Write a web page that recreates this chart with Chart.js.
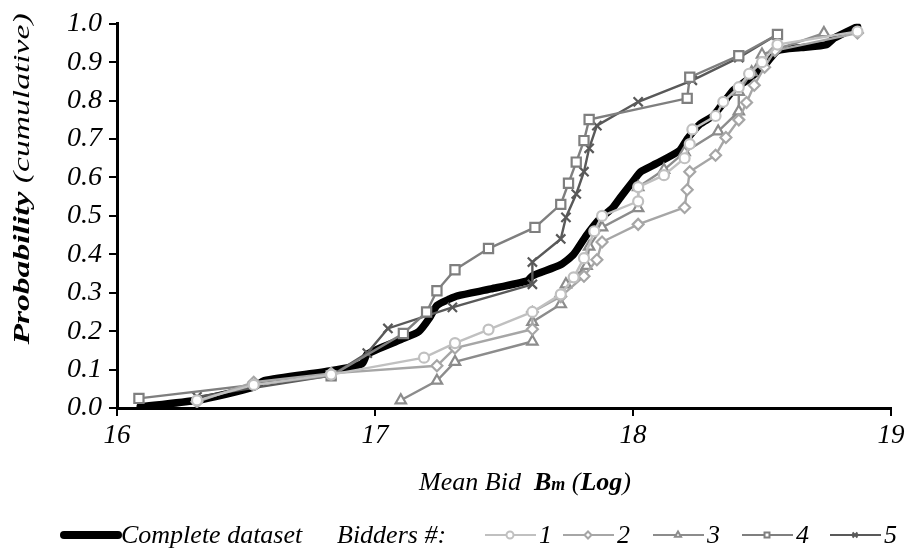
<!DOCTYPE html>
<html>
<head>
<meta charset="utf-8">
<script src="https://cdn.jsdelivr.net/npm/chart.js@4"></script>
<style>
  html, body { margin: 0; padding: 0; background: #fff; }
  #wrap { width: 913px; height: 556px; position: relative; }
</style>
</head>
<body>
<div id="wrap"><canvas id="cdfChart" width="913" height="556"></canvas></div>
<script>
// tick labels
const xTicks = [16, 17, 18, 19];
const yTicks = [0, 0.1, 0.2, 0.3, 0.4, 0.5, 0.6, 0.7, 0.8, 0.9, 1.0];

// complete dataset (thick black)
const completeX = [16.09, 16.31, 16.53, 16.57, 16.83, 16.95, 16.97, 17.10, 17.17, 17.21, 17.24, 17.29, 17.32, 17.45, 17.59, 17.61, 17.72, 17.77, 17.82, 17.87, 17.92, 17.95, 18.00, 18.03, 18.09, 18.18, 18.21, 18.26, 18.31, 18.34, 18.39, 18.45, 18.52, 18.56, 18.65, 18.75, 18.78, 18.87];
const completeY = [0.003, 0.02, 0.054, 0.071, 0.097, 0.115, 0.14, 0.178, 0.199, 0.233, 0.267, 0.284, 0.292, 0.31, 0.331, 0.344, 0.373, 0.40, 0.45, 0.492, 0.52, 0.547, 0.59, 0.615, 0.636, 0.67, 0.70, 0.739, 0.76, 0.785, 0.828, 0.857, 0.90, 0.93, 0.938, 0.946, 0.963, 0.993];

// bidders #1 (circles)
const bid1X = [16.31, 16.53, 16.83, 17.19, 17.31, 17.44, 17.61, 17.72, 17.77, 17.81, 17.85, 17.88, 18.02, 18.02, 18.12, 18.20, 18.22, 18.23, 18.32, 18.35, 18.41, 18.45, 18.50, 18.56, 18.87];
const bid1Y = [0.02, 0.06, 0.087, 0.131, 0.169, 0.204, 0.25, 0.296, 0.34, 0.39, 0.46, 0.50, 0.538, 0.575, 0.606, 0.65, 0.687, 0.725, 0.76, 0.797, 0.835, 0.87, 0.90, 0.946, 0.98];

// bidders #2 (diamonds)
const bid2X = [16.31, 16.53, 16.83, 17.24, 17.31, 17.61, 17.61, 17.72, 17.81, 17.86, 17.88, 18.02, 18.20, 18.21, 18.22, 18.32, 18.36, 18.41, 18.44, 18.47, 18.51, 18.55, 18.87];
const bid2Y = [0.016, 0.067, 0.09, 0.11, 0.156, 0.205, 0.25, 0.29, 0.343, 0.386, 0.432, 0.478, 0.522, 0.568, 0.615, 0.658, 0.704, 0.75, 0.795, 0.84, 0.887, 0.93, 0.976];

// bidders #3 (triangles)
const bid3X = [17.10, 17.24, 17.31, 17.61, 17.61, 17.72, 17.74, 17.82, 17.83, 17.88, 18.02, 18.02, 18.12, 18.20, 18.33, 18.41, 18.41, 18.46, 18.50, 18.74];
const bid3Y = [0.02, 0.071, 0.12, 0.173, 0.224, 0.27, 0.322, 0.37, 0.42, 0.47, 0.52, 0.575, 0.62, 0.666, 0.72, 0.772, 0.823, 0.874, 0.92, 0.976];

// bidders #4 (squares)
const bid4X = [16.085, 16.83, 17.11, 17.20, 17.24, 17.31, 17.44, 17.62, 17.72, 17.75, 17.78, 17.81, 17.83, 18.21, 18.22, 18.41, 18.56];
const bid4Y = [0.025, 0.084, 0.194, 0.25, 0.305, 0.36, 0.415, 0.47, 0.53, 0.585, 0.64, 0.696, 0.751, 0.806, 0.861, 0.917, 0.972];

// bidders #5 (crosses)
const bid5X = [16.31, 16.83, 16.97, 17.05, 17.30, 17.61, 17.61, 17.72, 17.74, 17.78, 17.81, 17.83, 17.86, 18.02, 18.23, 18.41, 18.56];
const bid5Y = [0.029, 0.084, 0.143, 0.207, 0.262, 0.322, 0.38, 0.44, 0.496, 0.557, 0.615, 0.676, 0.735, 0.797, 0.853, 0.912, 0.972];

const SERIF = '"Liberation Serif", "DejaVu Serif", serif';

function toPoints(xs, ys) {
    return xs.map((x, i) => ({ x: x, y: ys[i] }));
}

function bidderSet(label, xs, ys, color, style, radius) {
    return {
        label: label,
        data: toPoints(xs, ys),
        borderColor: color,
        backgroundColor: '#fff',
        borderWidth: 2.4,
        pointStyle: style,
        pointRadius: radius,
        pointBorderWidth: 2.2,
        pointBorderColor: color,
        pointBackgroundColor: '#fff',
        pointHoverRadius: radius,
        tension: 0,
        order: 1
    };
}

const bidders = [
    bidderSet('1', bid1X, bid1Y, '#c0c0c0', 'circle', 5),
    bidderSet('2', bid2X, bid2Y, '#a6a6a6', 'rectRot', 5.5),
    bidderSet('3', bid3X, bid3Y, '#8c8c8c', 'triangle', 6),
    bidderSet('4', bid4X, bid4Y, '#7f7f7f', 'rect', 6.5),
    bidderSet('5', bid5X, bid5Y, '#595959', 'crossRot', 6.5)
];

// draw a line of text made of differently styled pieces
function drawRuns(ctx, runs, x, y) {
    let total = 0;
    runs.forEach(r => { ctx.font = r.font; total += ctx.measureText(r.text).width; });
    let cx = x - total / 2;
    runs.forEach(r => {
        ctx.font = r.font;
        ctx.fillText(r.text, cx, y + (r.dy || 0));
        cx += ctx.measureText(r.text).width;
    });
}

const decorPlugin = {
    id: 'decor',
    afterDraw(chart) {
        const ctx = chart.ctx;
        ctx.save();
        ctx.fillStyle = '#000';
        ctx.textBaseline = 'alphabetic';
        ctx.textAlign = 'left';

        // x title
        drawRuns(ctx, [
            { text: 'Mean Bid  ', font: 'italic 26px ' + SERIF },
            { text: 'B', font: 'italic bold 26px ' + SERIF },
            { text: 'm', font: 'italic bold 18px ' + SERIF },
            { text: ' (', font: 'italic 26px ' + SERIF },
            { text: 'Log', font: 'italic bold 26px ' + SERIF },
            { text: ')', font: 'italic 26px ' + SERIF }
        ], 525, 490);

        // y title (stretched along its length like the original)
        ctx.save();
        ctx.translate(29, 179);
        ctx.rotate(-Math.PI / 2);
        ctx.scale(1.4, 1);
        drawRuns(ctx, [
            { text: 'Probability', font: 'italic bold 24px ' + SERIF },
            { text: ' (cumulative)', font: 'italic 24px ' + SERIF }
        ], 0, 0);
        ctx.restore();

        // legend
        const ly = 535;
        ctx.strokeStyle = '#000';
        ctx.lineCap = 'round';
        ctx.lineWidth = 8;
        ctx.beginPath();
        ctx.moveTo(64, ly);
        ctx.lineTo(118, ly);
        ctx.stroke();
        ctx.font = 'italic 26px ' + SERIF;
        ctx.fillText('Complete dataset', 121, ly + 8);
        ctx.fillText('Bidders #:', 337, ly + 8);

        const starts = [485, 563, 653, 742, 830];
        ctx.lineCap = 'butt';
        bidders.forEach((ds, i) => {
            const x0 = starts[i];
            ctx.strokeStyle = ds.borderColor;
            ctx.lineWidth = 2;
            ctx.beginPath();
            ctx.moveTo(x0, ly);
            ctx.lineTo(x0 + 51, ly);
            ctx.stroke();
            ctx.fillStyle = '#fff';
            Chart.helpers.drawPoint(ctx, {
                pointStyle: ds.pointStyle,
                radius: 3.5,
                borderWidth: 2
            }, x0 + 25, ly);
            ctx.fillStyle = '#000';
            ctx.font = 'italic 26px ' + SERIF;
            ctx.fillText(ds.label, x0 + 54, ly + 8);
        });
        ctx.restore();
    }
};

const ctx = document.getElementById('cdfChart').getContext('2d');
new Chart(ctx, {
    type: 'line',
    data: {
        datasets: [
            {
                label: 'Complete dataset',
                data: toPoints(completeX, completeY),
                borderColor: '#000',
                borderWidth: 7.5,
                borderJoinStyle: 'round',
                borderCapStyle: 'round',
                pointRadius: 0,
                pointHoverRadius: 0,
                tension: 0.2,
                order: 2
            }
        ].concat(bidders)
    },
    options: {
        responsive: false,
        animation: false,
        events: [],
        layout: { padding: { left: 0, right: 22, top: 16, bottom: 108 } },
        plugins: {
            legend: { display: false },
            tooltip: { enabled: false }
        },
        scales: {
            x: {
                type: 'linear',
                min: 16,
                max: 19,
                afterBuildTicks(scale) { scale.ticks = xTicks.map(v => ({ value: v })); },
                afterFit(scale) { scale.height = 40; },
                grid: { drawOnChartArea: false, drawTicks: true, tickLength: 8, color: '#000', lineWidth: 2 },
                border: { color: '#000', width: 3 },
                ticks: {
                    color: '#000',
                    padding: 4,
                    font: { family: SERIF, size: 27, style: 'italic' },
                    callback: v => String(v)
                }
            },
            y: {
                type: 'linear',
                min: 0,
                max: 1,
                afterBuildTicks(scale) { scale.ticks = yTicks.map(v => ({ value: v })); },
                afterFit(scale) { scale.width = 117; },
                grid: { drawOnChartArea: false, drawTicks: true, tickLength: 8, color: '#000', lineWidth: 2 },
                border: { color: '#000', width: 3 },
                ticks: {
                    color: '#000',
                    padding: 7,
                    font: { family: SERIF, size: 28, style: 'italic' },
                    callback: v => v.toFixed(1)
                }
            }
        }
    },
    plugins: [decorPlugin]
});
</script>
</body>
</html>
